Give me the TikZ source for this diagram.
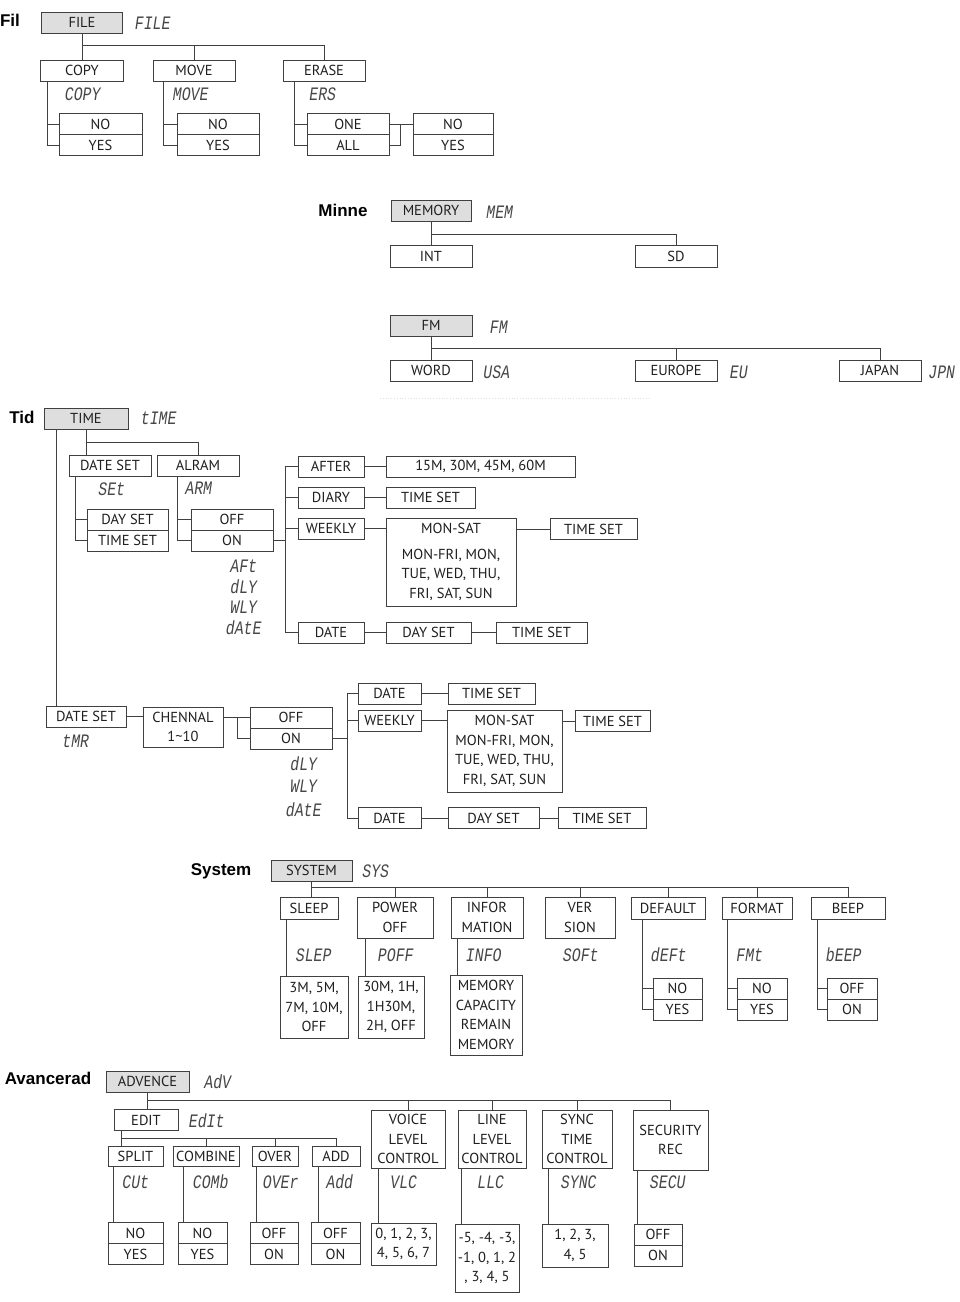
\documentclass[tikz,border=0pt]{standalone}
\usepackage{fontspec}
\setmainfont{PT Sans}
\newfontfamily\lblfont{Liberation Sans}
\newfontfamily\lcdfont{Liberation Mono}[FakeSlant=0.15, FakeStretch=0.78]
\newcommand\boxfont{\fontsize{14.5}{19.5}\selectfont}
\begin{document}
\begin{tikzpicture}[x=1pt,y=-1pt,
  every node/.style={inner sep=0pt, text=black!88},
  box/.style={draw=black!75, line width=0.9pt, fill=white, font=\boxfont, align=center},
  hd/.style={box, fill=black!13},
  lcd/.style={font=\lcdfont\fontsize{19}{19}\selectfont, text=black!72},
  lbl/.style={font=\lblfont\bfseries\fontsize{17}{17}\selectfont, text=black},
  ln/.style={draw=black!75, line width=0.9pt},
  wh/.style n args={2}{minimum width=#1pt, minimum height=#2pt}
]
\fill[white] (0,0) rectangle (960,1302);
\useasboundingbox (0,0) rectangle (960,1302);

% ================= FILE =================
\node[lbl] (lfil) at (10,20) {Fil};
\node[hd, wh={81}{21}] (file) at (82,22.5) {FILE};
\node[lcd] (lcdfile) at (152,23) {FILE};
\node[box, wh={83}{21}] (copy) at (82,70.5) {COPY};
\node[box, wh={82}{21}] (move) at (194,70.5) {MOVE};
\node[box, wh={82}{21}] (erase) at (324,70.5) {ERASE};
\node[lcd] (lcdcopy) at (82,94) {COPY};
\node[lcd] (lcdmove) at (190,94) {MOVE};
\node[lcd] (lcders) at (322,94) {ERS};
\node[box, wh={83}{21}] (no1) at (100.5,124) {NO};
\node[box, wh={83}{21}] (yes1) at (100.5,145) {YES};
\node[box, wh={82}{21}] (no2) at (218,124) {NO};
\node[box, wh={82}{21}] (yes2) at (218,145) {YES};
\node[box, wh={82}{21}] (one) at (348,124) {ONE};
\node[box, wh={82}{21}] (all) at (348,145) {ALL};
\node[box, wh={80}{21}] (no4) at (453,124) {NO};
\node[box, wh={80}{21}] (yes4) at (453,145) {YES};
\coordinate (fj) at (82,45);
\draw[ln] (file.south) -- (copy.north);
\draw[ln] (fj) -| (erase.north);
\draw[ln] (move.north) -- (move.north |- fj);
\draw[ln] ([xshift=7.5]copy.south west) |- (no1.west);
\draw[ln] ([xshift=7.5]copy.south west) |- (yes1.west);
\draw[ln] ([xshift=11]move.south west) |- (no2.west);
\draw[ln] ([xshift=11]move.south west) |- (yes2.west);
\draw[ln] ([xshift=12]erase.south west) |- (one.west);
\draw[ln] ([xshift=12]erase.south west) |- (all.west);
\draw[ln] (one.east) -- (no4.west);
\draw[ln] (all.east) -| ([xshift=11]one.east);

% ================= MEMORY =================
\node[lbl] (lminne) at (343,210) {Minne};
\node[hd, wh={80}{21}] (mem) at (431,210.5) {MEMORY};
\node[lcd] (lcdmem) at (499,212) {MEM};
\node[box, wh={82}{22}] (int) at (431,256) {INT};
\node[box, wh={82}{22}] (sd) at (676,256) {SD};
\coordinate (mj) at (431,234);
\draw[ln] (mem.south) -- (int.north);
\draw[ln] (mj) -| (sd.north);

% ================= FM =================
\node[hd, wh={82}{21}] (fm) at (431,325.5) {FM};
\node[lcd] (lcdfm) at (498,327) {FM};
\node[box, wh={82}{21}] (word) at (431,370.5) {WORD};
\node[lcd] (lcdusa) at (496,372) {USA};
\node[box, wh={82}{21}] (europe) at (676,370.5) {EUROPE};
\node[lcd] (lcdeu) at (738,372) {EU};
\node[box, wh={82}{21}] (japan) at (880,370.5) {JAPAN};
\node[lcd] (lcdjpn) at (941,372) {JPN};
\coordinate (fmj) at (431,348);
\draw[ln] (fm.south) -- (word.north);
\draw[ln] (fmj) -| (japan.north);
\draw[ln] (europe.north) -- (europe.north |- fmj);
\draw[black!12, dotted, line width=0.8pt] (380,398) -- (650,398);

% ================= TIME =================
\node[lbl] (ltid) at (22,417) {Tid};
\node[hd, wh={84}{21}] (time) at (86,418.5) {TIME};
\node[lcd] (lcdtime) at (158,418) {tIME};
\node[box, wh={82}{21}] (dateset1) at (110,465.5) {DATE SET};
\node[box, wh={82}{21}] (alram) at (198,465.5) {ALRAM};
\node[lcd] (lcdset) at (111,489) {SEt};
\node[lcd] (lcdarm) at (198,488) {ARM};
\coordinate (tj) at (86,442);
\draw[ln] (time.south) -- (time.south |- dateset1.north);
\draw[ln] (tj) -| (alram.north);
\node[box, wh={81}{21}] (dayset1) at (127.5,519.5) {DAY SET};
\node[box, wh={81}{21}] (timeset1) at (127.5,540.5) {TIME SET};
\node[box, wh={82}{21}] (off1) at (232,519.5) {OFF};
\node[box, wh={82}{21}] (on1) at (232,540.5) {ON};
\draw[ln] ([xshift=7]dateset1.south west) |- (dayset1.west);
\draw[ln] ([xshift=7]dateset1.south west) |- (timeset1.west);
\draw[ln] ([xshift=21]alram.south west) |- (off1.west);
\draw[ln] ([xshift=21]alram.south west) |- (on1.west);
\node[box, wh={66}{21}] (after) at (331,466.5) {AFTER};
\node[box, wh={66}{21}] (diary) at (331,497.5) {DIARY};
\node[box, wh={66}{21}] (weekly) at (331,528.5) {WEEKLY};
\node[box, wh={66}{21}] (date1) at (331,632.5) {DATE};
\coordinate (abx) at (285,0);
\draw[ln] (on1.east) -- (on1.east -| abx);
\draw[ln] (after.west) -| (abx |- date1.west) -- (date1.west);
\draw[ln] (diary.west) -- (diary.west -| abx);
\draw[ln] (weekly.west) -- (weekly.west -| abx);
\node[box, wh={189}{21}] (t15) at (480.5,466.5) {15M, 30M, 45M, 60M};
\node[box, wh={89}{21}] (diaryts) at (430.5,497.5) {TIME SET};
\node[box, wh={130}{88}] (bigweek1) at (451,562) {MON-SAT\\[6pt]MON-FRI, MON,\\TUE, WED, THU,\\FRI, SAT, SUN};
\node[box, wh={87}{21}] (weekts1) at (593.5,529) {TIME SET};
\node[box, wh={85}{21}] (dayset1b) at (428.5,632.5) {DAY SET};
\node[box, wh={91}{21}] (ts1b) at (541.5,632.5) {TIME SET};
\draw[ln] (after.east) -- (t15.west);
\draw[ln] (diary.east) -- (diaryts.west);
\draw[ln] (weekly.east) -- (weekly.east -| bigweek1.west);
\draw[ln] (weekts1.west -| bigweek1.east) -- (weekts1.west);
\draw[ln] (date1.east) -- (dayset1b.west);
\draw[ln] (dayset1b.east) -- (ts1b.west);
\node[lcd] (lcdaft) at (243,566) {AFt};
\node[lcd] (lcddly1) at (243,587) {dLY};
\node[lcd] (lcdwly1) at (243,607) {WLY};
\node[lcd] (lcddate1) at (243,628) {dAtE};

% lower timer branch
\node[box, wh={80}{21}] (dateset2) at (86,716.5) {DATE SET};
\draw[ln] ([xshift=13]time.south west) -- ([xshift=13]time.south west |- dateset2.north);
\node[lcd] (lcdtmr) at (75,741) {tMR};
\node[box, wh={80}{40}] (chennal) at (183,727) {CHENNAL\\1\textasciitilde10};
\draw[ln] (dateset2.east) -- (dateset2.east -| chennal.west);
\node[box, wh={82}{21}] (off2) at (291,717.5) {OFF};
\node[box, wh={82}{21}] (on2) at (291,738.5) {ON};
\draw[ln] (off2.west -| chennal.east) -- (off2.west);
\draw[ln] ([xshift=-12]off2.west) |- (on2.west);
\node[box, wh={63}{21}] (date2a) at (389.5,693.5) {DATE};
\node[box, wh={87}{21}] (ts2a) at (491.5,693.5) {TIME SET};
\node[box, wh={63}{21}] (weekly2) at (389.5,720.5) {WEEKLY};
\node[box, wh={115}{82}] (bigweek2) at (504.5,751) {MON-SAT\\MON-FRI, MON,\\TUE, WED, THU,\\FRI, SAT, SUN};
\node[box, wh={75}{21}] (ts2b) at (612.5,721) {TIME SET};
\node[box, wh={63}{21}] (date2b) at (389.5,818) {DATE};
\node[box, wh={91}{21}] (dayset2) at (493.5,818) {DAY SET};
\node[box, wh={88}{21}] (ts2c) at (602,818) {TIME SET};
\coordinate (bbx) at (347,0);
\draw[ln] (on2.east) -- (on2.east -| bbx);
\draw[ln] (date2a.west) -| (bbx |- date2b.west) -- (date2b.west);
\draw[ln] (weekly2.west) -- (weekly2.west -| bbx);
\draw[ln] (date2a.east) -- (ts2a.west);
\draw[ln] (weekly2.east) -- (weekly2.east -| bigweek2.west);
\draw[ln] (ts2b.west -| bigweek2.east) -- (ts2b.west);
\draw[ln] (date2b.east) -- (dayset2.west);
\draw[ln] (dayset2.east) -- (ts2c.west);
\node[lcd] (lcddly2) at (303,764) {dLY};
\node[lcd] (lcdwly2) at (303,786) {WLY};
\node[lcd] (lcddate2) at (303,810) {dAtE};

% ================= SYSTEM =================
\node[lbl] (lsys) at (221,871) {System};
\node[hd, wh={81}{21}] (system) at (311.5,870.5) {SYSTEM};
\node[lcd] (lcdsys) at (375,871) {SYS};
\coordinate (sj) at (311.5,887);
\node[box, wh={58}{22}] (sleep) at (309,908) {SLEEP};
\node[box, wh={76}{41}] (poweroff) at (395,917.5) {POWER\\OFF};
\node[box, wh={72}{41}] (infor) at (487,917.5) {INFOR\\MATION};
\node[box, wh={70}{41}] (version) at (580,917.5) {VER\\SION};
\node[box, wh={74}{22}] (default) at (668,908) {DEFAULT};
\node[box, wh={70}{22}] (format) at (757,908) {FORMAT};
\node[box, wh={74}{22}] (beep) at (848,908) {BEEP};
\draw[ln] (system.south) -- (system.south |- sleep.north);
\draw[ln] (sj) -| (beep.north);
\foreach \n in {poweroff,infor,version,default,format}
  \draw[ln] (\n.north) -- (\n.north |- sj);
\node[lcd] (lcdslep) at (313,955) {SLEP};
\node[lcd] (lcdpoff) at (395,955) {POFF};
\node[lcd] (lcdinfo) at (483,955) {INFO};
\node[lcd] (lcdsoft) at (580,955) {SOFt};
\node[lcd] (lcddeft) at (668,955) {dEFt};
\node[lcd] (lcdfmt) at (749,955) {FMt};
\node[lcd] (lcdbeep) at (843,955) {bEEP};
\node[box, wh={68}{62}] (sleepv) at (314,1007) {3M, 5M,\\7M, 10M,\\OFF};
\node[box, wh={66}{62}] (powerv) at (391,1007) {30M, 1H,\\1H30M,\\2H, OFF};
\node[box, wh={72}{80}] (infov) at (486,1015) {MEMORY\\CAPACITY\\REMAIN\\MEMORY};
\draw[ln] ([xshift=7]sleep.south west) -- ([xshift=7]sleep.south west |- sleepv.north);
\draw[ln] ([xshift=9]poweroff.south west) -- ([xshift=9]poweroff.south west |- powerv.north);
\draw[ln] ([xshift=7]infor.south west) -- ([xshift=7]infor.south west |- infov.north);
\node[box, wh={49}{21}] (dno) at (677.5,988.5) {NO};
\node[box, wh={49}{21}] (dyes) at (677.5,1009.5) {YES};
\node[box, wh={50}{21}] (fno) at (762,988.5) {NO};
\node[box, wh={50}{21}] (fyes) at (762,1009.5) {YES};
\node[box, wh={50}{21}] (boff) at (852,988.5) {OFF};
\node[box, wh={50}{21}] (bon) at (852,1009.5) {ON};
\draw[ln] ([xshift=12]default.south west) |- (dno.west);
\draw[ln] ([xshift=12]default.south west) |- (dyes.west);
\draw[ln] ([xshift=6]format.south west) |- (fno.west);
\draw[ln] ([xshift=6]format.south west) |- (fyes.west);
\draw[ln] ([xshift=7]beep.south west) |- (boff.west);
\draw[ln] ([xshift=7]beep.south west) |- (bon.west);

% ================= ADVANCED =================
\node[lbl] (ladv) at (48,1078) {Avancerad};
\node[hd, wh={83}{21}] (advence) at (147.5,1081.5) {ADVENCE};
\node[lcd] (lcdadv) at (217,1082) {AdV};
\coordinate (aj) at (147.5,1100);
\node[box, wh={64}{21}] (edit) at (146,1120) {EDIT};
\node[lcd] (lcdedit) at (206,1121) {EdIt};
\node[box, wh={74}{58}] (voice) at (408,1139) {VOICE\\LEVEL\\CONTROL};
\node[box, wh={68}{58}] (line) at (492,1139) {LINE\\LEVEL\\CONTROL};
\node[box, wh={70}{58}] (sync) at (577,1139) {SYNC\\TIME\\CONTROL};
\node[box, wh={75}{60}] (security) at (670.5,1140) {SECURITY\\REC};
\draw[ln] (advence.south) -- (advence.south |- edit.north);
\draw[ln] (aj) -| (security.north);
\foreach \n in {voice,line,sync}
  \draw[ln] (\n.north) -- (\n.north |- aj);
\node[box, wh={55}{20}] (split) at (135.5,1156) {SPLIT};
\node[box, wh={66}{20}] (combine) at (206,1156) {COMBINE};
\node[box, wh={46}{20}] (over) at (275,1156) {OVER};
\node[box, wh={48}{20}] (add) at (336,1156) {ADD};
\coordinate (ej) at (122,1138);
\draw[ln] ([xshift=8]edit.south west) -- ([xshift=8]edit.south west |- split.north);
\draw[ln] (ej) -| (add.north);
\draw[ln] (combine.north) -- (combine.north |- ej);
\draw[ln] (over.north) -- (over.north |- ej);
\node[lcd] (lcdcut) at (135,1182) {CUt};
\node[lcd] (lcdcomb) at (210,1182) {COMb};
\node[lcd] (lcdover) at (280,1182) {OVEr};
\node[lcd] (lcdadd) at (339,1182) {Add};
\node[lcd] (lcdvlc) at (403,1182) {VLC};
\node[lcd] (lcdllc) at (490,1182) {LLC};
\node[lcd] (lcdsync) at (578,1182) {SYNC};
\node[lcd] (lcdsecu) at (667,1182) {SECU};
\node[box, wh={55}{21}] (sno) at (135.5,1233) {NO};
\node[box, wh={55}{21}] (syes) at (135.5,1254) {YES};
\node[box, wh={49}{21}] (cno) at (202.5,1233) {NO};
\node[box, wh={49}{21}] (cyes) at (202.5,1254) {YES};
\node[box, wh={48}{21}] (ooff) at (274,1233) {OFF};
\node[box, wh={48}{21}] (oon) at (274,1254) {ON};
\node[box, wh={49}{21}] (aoff) at (335.5,1233) {OFF};
\node[box, wh={49}{21}] (aon) at (335.5,1254) {ON};
\node[box, wh={65}{42}] (voicev) at (403.5,1244) {0, 1, 2, 3,\\4, 5, 6, 7};
\node[box, wh={64}{68}] (linev) at (487,1258) {-5, -4, -3,\\-1, 0, 1, 2\\, 3, 4, 5};
\node[box, wh={66}{43}] (syncv) at (575,1245.5) {1, 2, 3,\\4, 5};
\node[box, wh={48}{21}] (secoff) at (658,1234.5) {OFF};
\node[box, wh={48}{21}] (secon) at (658,1255.5) {ON};
\draw[ln] ([xshift=6]split.south west) -- ([xshift=6]split.south west |- sno.north);
\draw[ln] ([xshift=11]combine.south west) -- ([xshift=11]combine.south west |- cno.north);
\draw[ln] ([xshift=5]over.south west) -- ([xshift=5]over.south west |- ooff.north);
\draw[ln] ([xshift=7]add.south west) -- ([xshift=7]add.south west |- aoff.north);
\draw[ln] ([xshift=8]voice.south west) -- ([xshift=8]voice.south west |- voicev.north);
\draw[ln] ([xshift=4]line.south west) -- ([xshift=4]line.south west |- linev.north);
\draw[ln] ([xshift=7]sync.south west) -- ([xshift=7]sync.south west |- syncv.north);
\draw[ln] ([xshift=5]security.south west) -- ([xshift=5]security.south west |- secoff.north);
\end{tikzpicture}
\end{document}
